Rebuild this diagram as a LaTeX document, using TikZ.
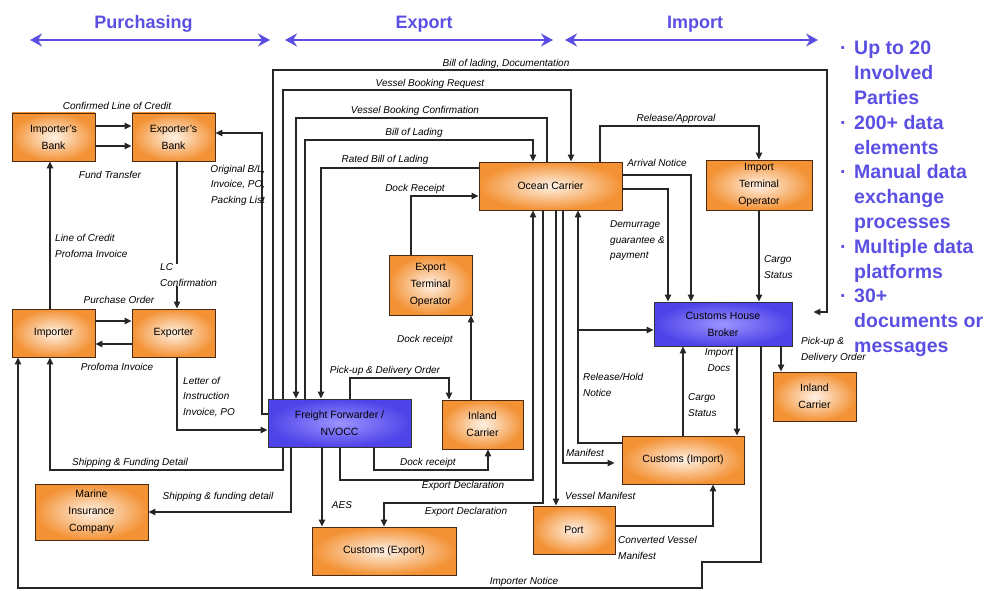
\documentclass[tikz,border=0pt]{standalone}
\usepackage{fontspec}
\setmainfont{Liberation Sans}
\usetikzlibrary{arrows.meta}
\definecolor{hdr}{HTML}{5A4FE2}
\definecolor{orgedge}{HTML}{F39235}
\definecolor{orgin}{HTML}{FFF2E6}
\definecolor{bluedge}{HTML}{4E43E8}
\definecolor{bluin}{HTML}{9C94FF}
\definecolor{boxline}{HTML}{4A2A10}
\begin{document}
\begin{tikzpicture}[x=1pt,y=-1pt,
  base/.style={line width=0.9pt, align=center, inner sep=1pt,
    font=\fontsize{10.5}{17}\selectfont},
  obox/.style={base, draw=boxline, inner color=orgin, outer color=orgedge},
  bbox/.style={base, draw=black!80, inner color=bluin, outer color=bluedge},
  lbl/.style={font=\itshape\fontsize{10}{15.5}\selectfont, inner sep=0pt, align=center},
  lbll/.style={lbl, align=left, anchor=west},
  arr/.style={draw=black!85, line width=1.1pt, -{Triangle[length=7pt,width=6.5pt]}},
  hdrarr/.style={draw=hdr, line width=2.4pt, {Stealth[length=12pt,width=13pt,inset=4pt]}-{Stealth[length=12pt,width=13pt,inset=4pt]}},
  hdrtxt/.style={text=hdr, font=\bfseries\fontsize{18}{20}\selectfont, inner sep=0pt}]
\useasboundingbox (0,0) rectangle (993,591);

% headers
\node[hdrtxt] (hp) at (143.5,24) {Purchasing};
\node[hdrtxt] (he) at (424,24) {Export};
\node[hdrtxt] (hi) at (695,24) {Import};
\coordinate (pa1) at (30,40); \coordinate (pa2) at (270,40);
\coordinate (ea1) at (285,40); \coordinate (ea2) at (553,40);
\coordinate (ia1) at (565,40); \coordinate (ia2) at (818,40);
\draw[hdrarr] (pa1) -- (pa2);
\draw[hdrarr] (ea1) -- (ea2);
\draw[hdrarr] (ia1) -- (ia2);

% bullets
\node[anchor=north west, text=hdr, font=\bfseries\fontsize{19.5}{24.8}\selectfont, align=left, inner sep=0pt] (bul) at (840,41)
 {\makebox[14pt][l]{·}Up to 20\\
  \hspace*{14pt}Involved\\
  \hspace*{14pt}Parties\\
  \makebox[14pt][l]{·}200+ data\\
  \hspace*{14pt}elements\\
  \makebox[14pt][l]{·}Manual data\\
  \hspace*{14pt}exchange\\
  \hspace*{14pt}processes\\
  \makebox[14pt][l]{·}Multiple data\\
  \hspace*{14pt}platforms\\
  \makebox[14pt][l]{·}30+\\
  \hspace*{14pt}documents or\\
  \hspace*{14pt}messages};

% boxes
\node[obox, minimum width=83pt, minimum height=48pt] (ib) at (53.5,137) {Importer's\\Bank};
\node[obox, minimum width=83pt, minimum height=48pt] (eb) at (173.5,137) {Exporter's\\Bank};
\node[obox, minimum width=83pt, minimum height=48pt] (imp) at (53.5,333) {Importer};
\node[obox, minimum width=83pt, minimum height=48pt] (exp) at (173.5,333) {Exporter};
\node[obox, minimum width=113pt, minimum height=56pt] (mic) at (91.5,512) {Marine\\Insurance\\Company};
\node[bbox, minimum width=143pt, minimum height=48pt] (ff) at (339.5,423) {Freight Forwarder /\\NVOCC};
\node[obox, minimum width=83pt, minimum height=60pt] (eto) at (430.5,285) {Export\\Terminal\\Operator};
\node[obox, minimum width=81pt, minimum height=49pt] (ic1) at (482.5,424.5) {Inland\\Carrier};
\node[obox, minimum width=144pt, minimum height=48pt] (cex) at (384,551) {Customs (Export)};
\node[obox, minimum width=143pt, minimum height=48pt] (oc) at (550.5,186) {Ocean Carrier};
\node[obox, minimum width=106pt, minimum height=50pt] (ito) at (759,185) {Import\\Terminal\\Operator};
\node[bbox, minimum width=138pt, minimum height=44pt] (chb) at (723,324) {Customs House\\Broker};
\node[obox, minimum width=122pt, minimum height=48pt] (cim) at (683,460) {Customs (Import)};
\node[obox, minimum width=82pt, minimum height=48pt] (port) at (574,530) {Port};
\node[obox, minimum width=83pt, minimum height=49pt] (ic2) at (814.5,396.5) {Inland\\Carrier};

% purchasing connectors
\draw[arr] (ib.east |- 0,126) -- (eb.west |- 0,126);
\draw[arr] (ib.east |- 0,146) -- (eb.west |- 0,146);
\draw[arr] (imp.north -| 50,0) -- (ib.south -| 50,0);
\draw[arr] (eb.south -| 177,0) -- (exp.north -| 177,0);
\draw[arr] (imp.east |- 0,321) -- (exp.west |- 0,321);
\draw[arr] (exp.west |- 0,344) -- (imp.east |- 0,344);
\draw[arr] (exp.south -| 177,0) |- (ff.west |- 0,430);
\draw[arr] (ff.south -| 283,0) |- (50,470) -- (imp.south -| 50,0);
\draw[arr] (ff.south -| 291,0) |- (mic.east |- 0,512);
\draw[arr] (ff.west |- 0,414) -| (262,133) -- (eb.east |- 0,133);

% export connectors
\draw[arr, shorten >=21pt] (ff.north -| 273,0) -- (273,70) -| (827,312) -- (chb.east |- 0,312);
\draw[arr] (ff.north -| 283,0) -- (283,90) -| (oc.north -| 571,0);
\draw[arr] (oc.north -| 547,0) -- (547,118) -| (ff.north -| 296,0);
\draw[arr] (ff.north -| 305,0) -- (305,140) -| (oc.north -| 533,0);
\draw[arr] (oc.west |- 0,168) -| (ff.north -| 321,0);
\draw[arr] (eto.north -| 411,0) |- (oc.west |- 0,196);
\draw[arr] (ic1.north -| 471,0) -- (eto.south -| 471,0);
\draw[arr] (ff.north -| 350,0) |- (449,378) -- (ic1.north -| 449,0);
\draw[arr] (ff.south -| 374,0) |- (488,470) -- (ic1.south -| 488,0);
\draw[arr] (ff.south -| 340,0) |- (533,480) -- (oc.south -| 533,0);
\draw[arr] (oc.south -| 543,0) |- (384,503) -- (cex.north -| 384,0);
\draw[arr] (ff.south -| 322,0) -- (cex.north -| 322,0);

% import connectors
\draw[arr] (oc.south -| 556,0) -- (port.north -| 556,0);
\draw[arr, shorten >=7pt] (oc.south -| 563,0) |- (cim.west |- 0,463);
\draw[arr] (cim.west |- 0,443) -| (oc.south -| 578,0);
\coordinate (rh) at (578,330);
\draw[arr] (rh) -- (chb.west |- rh);
\draw[arr] (cim.north -| 683,0) -- (chb.south -| 683,0);
\draw[arr] (chb.south -| 737,0) -- (cim.north -| 737,0);
\draw[arr] (port.east |- 0,526) -| (cim.south -| 713,0);
\draw[arr] (oc.north -| 600,0) |- (759,126) -- (ito.north -| 759,0);
\draw[arr] (oc.east |- 0,175) -| (chb.north -| 691,0);
\draw[arr] (oc.east |- 0,189) -| (chb.north -| 668,0);
\draw[arr] (ito.south -| 759,0) -- (chb.north -| 759,0);
\draw[arr] (chb.south -| 781,0) -- (ic2.north -| 781,0);
\draw[arr] (chb.south -| 761,0) -- (761,562) -- (702,562) -- (702,588) -| (imp.south -| 18,0);

% labels
\node[lbl] (l1) at (117,106) {Confirmed Line of Credit};
\node[lbl] (l2) at (110,175) {Fund Transfer};
\node[lbl] (l3) at (238,185) {Original B/L,\\Invoice, PO,\\Packing List};
\node[lbll] (l4) at (55,246) {Line of Credit\\Profoma Invoice};
\node[lbll, fill=white] (l5) at (160,275) {LC\\Confirmation};
\node[lbl] (l6) at (119,300) {Purchase Order};
\node[lbl] (l7) at (117,367) {Profoma Invoice};
\node[lbll] (l8) at (183,397) {Letter of\\Instruction\\Invoice, PO};
\node[lbl] (l9) at (130,463) {Shipping \& Funding Detail};
\node[lbl] (l10) at (218,497) {Shipping \& funding detail};
\node[lbl] (l11) at (506,64) {Bill of lading, Documentation};
\node[lbl] (l12) at (430,84) {Vessel Booking Request};
\node[lbl] (l13) at (415,111) {Vessel Booking Confirmation};
\node[lbl] (l14) at (414,133) {Bill of Lading};
\node[lbl] (l15) at (385,160) {Rated Bill of Lading};
\node[lbl] (l16) at (415,189) {Dock Receipt};
\node[lbl] (l17) at (425,340) {Dock receipt};
\node[lbl] (l18) at (385,371) {Pick-up \& Delivery Order};
\node[lbl] (l19) at (428,463) {Dock receipt};
\node[lbl] (l20) at (463,486) {Export Declaration};
\node[lbl] (l21) at (342,505) {AES};
\node[lbl] (l22) at (466,512) {Export Declaration};
\node[lbl] (l23) at (524,582) {Importer Notice};
\node[lbl] (l24) at (676,119) {Release/Approval};
\node[lbl] (l25) at (657,163) {Arrival Notice};
\node[lbll] (l26) at (610,241) {Demurrage\\guarantee \&\\payment};
\node[lbll] (l27) at (764,267) {Cargo\\Status};
\node[lbll] (l28) at (801,350) {Pick-up \&\\Delivery Order};
\node[lbl] (l29) at (719,360) {Import\\Docs};
\node[lbll] (l30) at (583,385) {Release/Hold\\Notice};
\node[lbll] (l31) at (688,405) {Cargo\\Status};
\node[lbl] (l32) at (585,453) {Manifest};
\node[lbll] (l33) at (565,496) {Vessel Manifest};
\node[lbll] (l34) at (618,548) {Converted Vessel\\Manifest};
\end{tikzpicture}
\end{document}
